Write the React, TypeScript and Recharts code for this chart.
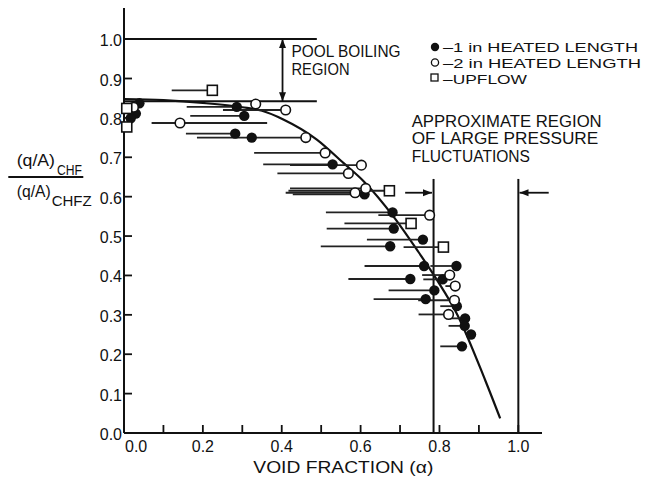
import React from "react";
import { ComposedChart, ErrorBar, Line, ReferenceLine, Scatter, XAxis, YAxis } from "recharts";

// 1 in heated length (filled circles): void fraction, CHF ratio, left end of range
const oneInVoid = [0.039, 0.03, 0.017, 0.286, 0.305, 0.282, 0.324, 0.529, 0.61, 0.681, 0.684, 0.675, 0.758, 0.761, 0.843, 0.726, 0.808, 0.787, 0.765, 0.844, 0.865, 0.864, 0.88, 0.857];
const oneInRatio = [0.837, 0.811, 0.799, 0.828, 0.805, 0.76, 0.75, 0.682, 0.606, 0.56, 0.519, 0.474, 0.491, 0.424, 0.424, 0.391, 0.39, 0.362, 0.34, 0.322, 0.291, 0.272, 0.25, 0.22];
const oneInLeft = [0.039, 0.03, 0.017, 0.159, 0.168, 0.157, 0.185, 0.353, 0.428, 0.512, 0.514, 0.499, 0.616, 0.61, 0.777, 0.569, 0.759, 0.671, 0.633, 0.802, 0.827, 0.823, 0.88, 0.802];

// 2 in heated length (open circles)
const twoInVoid = [0.024, 0.142, 0.334, 0.41, 0.461, 0.51, 0.602, 0.569, 0.613, 0.586, 0.775, 0.826, 0.84, 0.838, 0.823];
const twoInRatio = [0.827, 0.787, 0.835, 0.82, 0.75, 0.711, 0.68, 0.659, 0.621, 0.61, 0.553, 0.401, 0.373, 0.337, 0.301];
const twoInLeft = [0.024, 0.07, 0.334, 0.251, 0.33, 0.33, 0.421, 0.389, 0.421, 0.41, 0.645, 0.756, 0.815, 0.746, 0.747];
const twoInRight = [0.024, 0.363, 0.334, 0.41, 0.461, 0.51, 0.602, 0.569, 0.613, 0.586, 0.775, 0.826, 0.84, 0.838, 0.823];

// upflow (open squares)
const upflowVoid = [0.007, 0.007, 0.224, 0.673, 0.728, 0.81];
const upflowRatio = [0.777, 0.824, 0.87, 0.615, 0.532, 0.472];
const upflowLeft = [0.007, 0.007, 0.121, 0.417, 0.559, 0.709];

// correlation curve
const curveVoid = [0, 0.1, 0.2, 0.3, 0.35, 0.404, 0.489, 0.557, 0.607, 0.683, 0.743, 0.794, 0.844, 0.916, 0.954];
const curveRatio = [0.848, 0.845, 0.838, 0.827, 0.818, 0.796, 0.745, 0.685, 0.64, 0.55, 0.465, 0.388, 0.303, 0.134, 0.037];

const xTicks = [0, 0.1, 0.2, 0.3, 0.4, 0.5, 0.6, 0.7, 0.8, 0.9, 1.0];
const yTicks = [0, 0.1, 0.2, 0.3, 0.4, 0.5, 0.6, 0.7, 0.8, 0.9, 1.0];

const FONT = "'Liberation Sans', Arial, sans-serif";
const INK = "#111";

const rows = (xs: number[], ys: number[], left: number[], right?: number[]) =>
  xs.map((x, i) => ({ x, y: ys[i], err: [x - left[i], right ? right[i] - x : 0] }));

const oneInRows = rows(oneInVoid, oneInRatio, oneInLeft);
const twoInRows = rows(twoInVoid, twoInRatio, twoInLeft, twoInRight);
const upflowRows = rows(upflowVoid, upflowRatio, upflowLeft);
const curveRows = curveVoid.map((x, i) => ({ x, y: curveRatio[i] }));

const Filled = (p: any) => <circle cx={p.cx} cy={p.cy} r={5.2} fill={INK} />;
const Open = (p: any) => <circle cx={p.cx} cy={p.cy} r={4.8} fill="#fff" stroke={INK} strokeWidth={1.6} />;
const Square = (p: any) => (
  <rect x={p.cx - 5} y={p.cy - 5} width={10} height={10} fill="#fff" stroke={INK} strokeWidth={1.6} />
);

const head = (tx: number, ty: number, fx: number, fy: number) => {
  const a = Math.atan2(ty - fy, tx - fx);
  const L = 9;
  const W = 3.5;
  const bx = tx - L * Math.cos(a);
  const by = ty - L * Math.sin(a);
  const px = -Math.sin(a) * W;
  const py = Math.cos(a) * W;
  return <polygon points={`${tx},${ty} ${bx + px},${by + py} ${bx - px},${by - py}`} fill={INK} />;
};

const arrow = (both: boolean) => (p: any) => {
  const { x1, y1, x2, y2 } = p;
  return (
    <g>
      <line x1={x1} y1={y1} x2={x2} y2={y2} stroke={INK} strokeWidth={1.8} />
      {head(x2, y2, x1, y1)}
      {both && head(x1, y1, x2, y2)}
    </g>
  );
};

const XTick = (p: any) => {
  const { x, y, payload } = p;
  const v = payload.value as number;
  const labelled = Math.round(v * 10) % 2 === 0;
  return (
    <g>
      <line x1={x} y1={y} x2={x} y2={y - 8} stroke={INK} strokeWidth={1.8} />
      {labelled && (
        <text x={v === 0 ? x + 1 : x} y={y + 19} textAnchor={v === 0 ? "start" : "middle"} fontSize={16} fontFamily={FONT} fill={INK}>
          {v.toFixed(1)}
        </text>
      )}
    </g>
  );
};

const YTick = (p: any) => {
  const { x, y, payload } = p;
  const v = payload.value as number;
  return (
    <g>
      <line x1={x} y1={y} x2={x + 8} y2={y} stroke={INK} strokeWidth={1.8} />
      <text x={x - 2} y={y + 7} textAnchor="end" fontSize={16} fontFamily={FONT} fill={INK}>
        {v.toFixed(1)}
      </text>
    </g>
  );
};

const txt = { fontFamily: FONT, fill: INK, fontSize: 16 };

export default function App() {
  return (
    <div style={{ position: "absolute", left: 0, top: 0, width: 663, height: 477, background: "#fff" }}>
      <ComposedChart width={663} height={477} margin={{ top: 8, right: 121, bottom: 14, left: 94 }}>
        <XAxis
          dataKey="x"
          type="number"
          domain={[0, 1.06]}
          ticks={xTicks}
          height={30}
          tickSize={0}
          tickMargin={0}
          tickLine={false}
          axisLine={{ stroke: INK, strokeWidth: 2 }}
          tick={<XTick />}
        />
        <YAxis
          dataKey="y"
          type="number"
          domain={[0, 1.079]}
          ticks={yTicks}
          width={30}
          tickSize={0}
          tickMargin={0}
          tickLine={false}
          axisLine={{ stroke: INK, strokeWidth: 2 }}
          tick={<YTick />}
        />
        <ReferenceLine segment={[{ x: 0, y: 1.0 }, { x: 0.489, y: 1.0 }]} stroke={INK} strokeWidth={2} />
        <ReferenceLine segment={[{ x: 0, y: 0.842 }, { x: 0.489, y: 0.842 }]} stroke={INK} strokeWidth={2} />
        <ReferenceLine segment={[{ x: 0.402, y: 0.842 }, { x: 0.402, y: 1.0 }]} shape={arrow(true)} />
        <ReferenceLine segment={[{ x: 0.785, y: 0 }, { x: 0.785, y: 0.645 }]} stroke={INK} strokeWidth={2} />
        <ReferenceLine segment={[{ x: 1.0, y: 0 }, { x: 1.0, y: 0.645 }]} stroke={INK} strokeWidth={2} />
        <ReferenceLine segment={[{ x: 0.713, y: 0.61 }, { x: 0.781, y: 0.61 }]} shape={arrow(false)} />
        <ReferenceLine ifOverflow="visible" segment={[{ x: 1.077, y: 0.61 }, { x: 1.003, y: 0.61 }]} shape={arrow(false)} />
        <Line data={curveRows} dataKey="y" type="monotone" stroke={INK} strokeWidth={2.2} dot={false} isAnimationActive={false} />
        <Scatter data={oneInRows} dataKey="y" shape={Filled} isAnimationActive={false}>
          <ErrorBar dataKey="err" direction="x" width={0} stroke="#222" strokeWidth={1.8} isAnimationActive={false} />
        </Scatter>
        <Scatter data={twoInRows} dataKey="y" shape={Open} isAnimationActive={false}>
          <ErrorBar dataKey="err" direction="x" width={0} stroke="#222" strokeWidth={1.8} isAnimationActive={false} />
        </Scatter>
        <Scatter data={upflowRows} dataKey="y" shape={Square} isAnimationActive={false}>
          <ErrorBar dataKey="err" direction="x" width={0} stroke="#222" strokeWidth={1.8} isAnimationActive={false} />
        </Scatter>
      </ComposedChart>
      <svg width={663} height={477} style={{ position: "absolute", left: 0, top: 0, pointerEvents: "none" }}>
        <g {...txt}>
          <text x={291.5} y={57} textLength={109} lengthAdjust="spacingAndGlyphs">POOL BOILING</text>
          <text x={291.5} y={75} textLength={58} lengthAdjust="spacingAndGlyphs">REGION</text>

          <circle cx={435} cy={47} r={4.2} fill={INK} />
          <text x={443} y={52.4} fontSize={13.5} textLength={195} lengthAdjust="spacingAndGlyphs">–1 in HEATED LENGTH</text>
          <circle cx={435} cy={62.5} r={3.6} fill="#fff" stroke={INK} strokeWidth={1.3} />
          <text x={443} y={68} fontSize={13.5} textLength={198} lengthAdjust="spacingAndGlyphs">–2 in HEATED LENGTH</text>
          <rect x={431} y={74} width={7} height={7} fill="#fff" stroke={INK} strokeWidth={1.3} />
          <text x={443} y={83.8} fontSize={13.5} textLength={84} lengthAdjust="spacingAndGlyphs">–UPFLOW</text>

          <text x={411.7} y={126.7} textLength={190} lengthAdjust="spacingAndGlyphs">APPROXIMATE REGION</text>
          <text x={411.7} y={144.3} textLength={186.6} lengthAdjust="spacingAndGlyphs">OF LARGE PRESSURE</text>
          <text x={411.7} y={161.7} textLength={118.3} lengthAdjust="spacingAndGlyphs">FLUCTUATIONS</text>

          <text x={253.3} y={473} textLength={180} lengthAdjust="spacingAndGlyphs">VOID FRACTION (α)</text>

          <text x={16.7} y={166} textLength={38.3} lengthAdjust="spacingAndGlyphs">(q/A)</text>
          <text x={57} y={175} fontSize={15} textLength={25} lengthAdjust="spacingAndGlyphs">CHF</text>
          <line x1={8.3} y1={177} x2={83.3} y2={177} stroke={INK} strokeWidth={2} />
          <text x={16.7} y={197} textLength={34} lengthAdjust="spacingAndGlyphs">(q/A)</text>
          <text x={51.7} y={206} fontSize={15} textLength={40} lengthAdjust="spacingAndGlyphs">CHFZ</text>
        </g>
      </svg>
    </div>
  );
}
